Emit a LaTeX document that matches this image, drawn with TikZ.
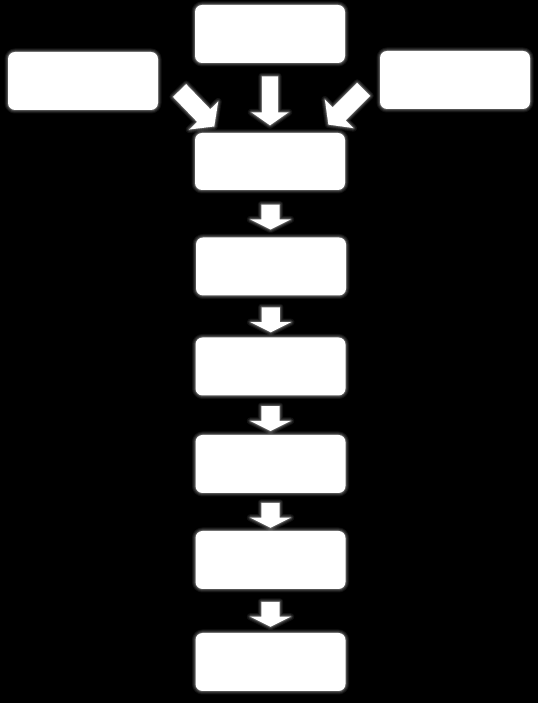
\documentclass[tikz,border=0pt]{standalone}
\usetikzlibrary{shapes.arrows,calc}
\begin{document}
\begin{tikzpicture}[x=1pt,y=1pt,
  glow/.style={preaction={draw=white,draw opacity=0.07,line width=7pt,line join=round},
               preaction={draw=white,draw opacity=0.09,line width=5pt,line join=round},
               preaction={draw=white,draw opacity=0.12,line width=3pt,line join=round},
               preaction={draw=white,draw opacity=0.15,line width=1.5pt,line join=round}},
  stepbox/.style={glow,fill=white,rounded corners=7pt,minimum width=150pt,minimum height=58pt,inner sep=0pt},
  smallarrow/.style={glow,single arrow,fill=white,inner xsep=0pt,inner ysep=9pt,minimum width=0pt,
      single arrow head extend=11pt,single arrow tip angle=127,minimum height=25pt,rotate=-90},
  bigarrow/.style={glow,single arrow,fill=white,inner xsep=0pt,inner ysep=8pt,minimum width=0pt,
      single arrow head extend=10.5pt,single arrow tip angle=110,minimum height=49pt},
  diagarrow/.style={glow,single arrow,fill=white,inner xsep=0pt,inner ysep=9pt,minimum width=0pt,
      single arrow head extend=11pt,single arrow tip angle=106,minimum height=50pt}
]
\fill[black] (0,0) rectangle (538,703);
\useasboundingbox (0,0) rectangle (538,703);

\node[stepbox] (top) at (270,669) {};
\node[stepbox] (left) at (83,622) {};
\node[stepbox] (right) at (455,623) {};
\node[stepbox,minimum height=57pt] (b2) at (270,541.5) {};
\node[stepbox] (b3) at (271,436.5) {};
\node[stepbox] (b4) at (270.5,336.5) {};
\node[stepbox] (b5) at (270.5,239) {};
\node[stepbox] (b6) at (270.5,143) {};
\node[stepbox] (b7) at (270.5,41) {};

\node[bigarrow,rotate=-90] (a0) at ($(top.south)!0.5!(b2.north)$) {};
\node[diagarrow,rotate=-46] (al) at (194.5,597) {};
\node[diagarrow,rotate=-135] (ar) at (348.5,598.5) {};

\node[smallarrow] (a1) at ($(b2.south)!0.5!(b3.north)+(0,-1)$) {};
\node[smallarrow] (a2) at ($(b3.south)!0.5!(b4.north)+(0,-1)$) {};
\node[smallarrow] (a3) at ($(b4.south)!0.5!(b5.north)+(0,-1)$) {};
\node[smallarrow] (a4) at ($(b5.south)!0.5!(b6.north)+(0,-1)$) {};
\node[smallarrow] (a5) at ($(b6.south)!0.5!(b7.north)+(0,-1)$) {};
\end{tikzpicture}
\end{document}
